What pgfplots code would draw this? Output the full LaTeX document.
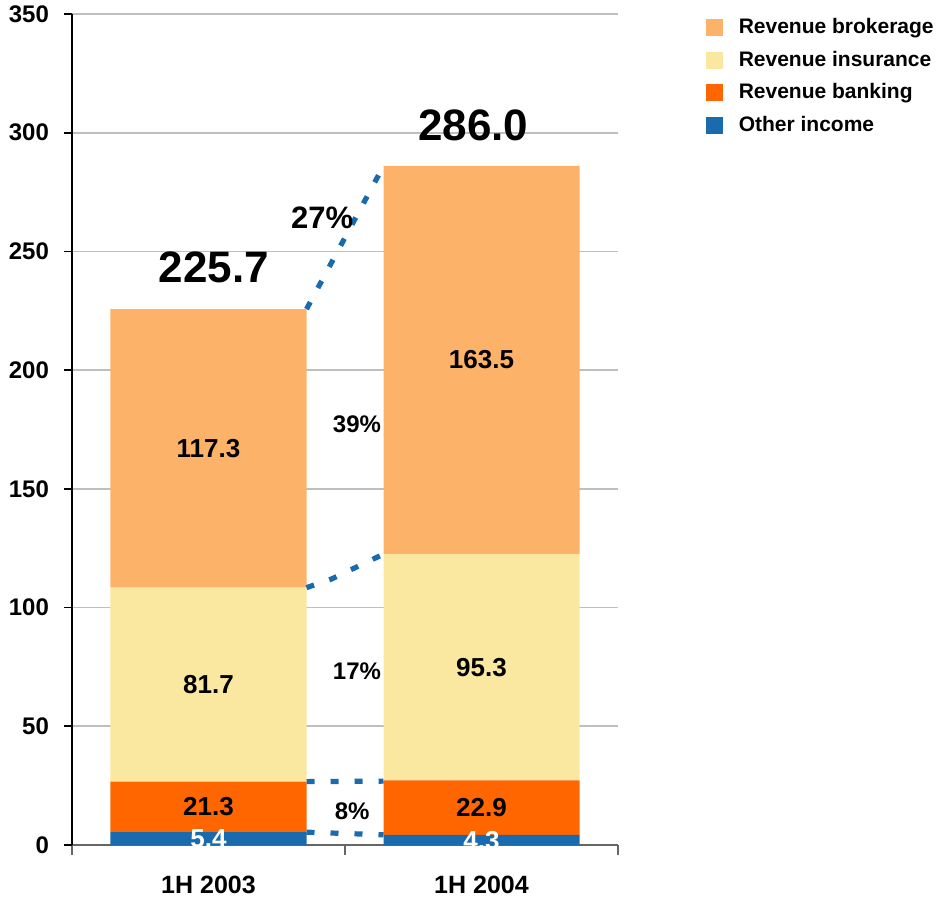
\documentclass[border=0pt]{standalone}
\usepackage{fontspec}
\setmainfont{Liberation Sans}
\usepackage{pgfplots}
\pgfplotsset{compat=1.18}
\definecolor{brok}{RGB}{253,178,106}
\definecolor{ins}{RGB}{250,232,160}
\definecolor{bank}{RGB}{255,102,0}
\definecolor{oth}{RGB}{26,107,173}
\begin{document}
\begin{tikzpicture}
\begin{axis}[
  scale only axis, width=273pt, height=415.5pt,
  xmin=-0.5, xmax=1.5, ymin=0, ymax=350,
  ybar stacked, bar width=98pt,
  axis x line=bottom, axis y line=left,
  x axis line style={-, draw=black!60, line width=1pt},
  y axis line style={-, draw=black, line width=0.8pt},
  xtick={0,1}, xticklabels={1H 2003, 1H 2004},
  major x tick style={draw=none},
  minor xtick={-0.5,0.5,1.5},
  minor x tick style={draw=black!60, line width=1pt},
  minor tick length=5pt,
  ytick={0,50,...,350},
  y tick style={draw=black, line width=0.8pt},
  major tick length=4pt,
  tick align=outside,
  ymajorgrids, grid style={draw=black!25, line width=0.8pt},
  /pgf/number format/assume math mode=true,
  yticklabel style={font=\bfseries\fontsize{12}{12}\selectfont, xshift=-4pt},
  xticklabel style={font=\bfseries\fontsize{12.5}{12.5}\selectfont, yshift=-8pt},
  reverse legend,
  legend style={at={(1.16,1)}, anchor=north west, draw=none, fill=none,
    font=\bfseries\fontsize{10.5}{10.5}\selectfont,
    row sep=3.2pt, column sep=6pt, inner sep=0pt},
  legend cell align=left,
  legend image code/.code={\fill[#1] (0pt,-4.25pt) rectangle (8.5pt,4.25pt);},
]
\addplot[fill=oth, draw=none] coordinates {(0,5.4) (1,4.3)};
\addplot[fill=bank, draw=none] coordinates {(0,21.3) (1,22.9)};
\addplot[fill=ins, draw=none] coordinates {(0,81.7) (1,95.3)};
\addplot[fill=brok, draw=none] coordinates {(0,117.3) (1,163.5)};
\legend{Other income, Revenue banking, Revenue insurance, Revenue brokerage}
\end{axis}
\begin{axis}[
  scale only axis, width=273pt, height=415.5pt,
  xmin=-0.5, xmax=1.5, ymin=0, ymax=350, hide axis, clip=false,
]
\coordinate (ll) at (rel axis cs:0,0);
\coordinate (ur) at (rel axis cs:1,1);
\addplot[oth, line width=2.6pt, dash pattern=on 4pt off 8pt] coordinates {(0.359,225.7) (0.641,286.0)};
\addplot[oth, line width=2.6pt, dash pattern=on 4pt off 8pt] coordinates {(0.359,108.4) (0.45,112) (0.641,122.5)};
\addplot[oth, line width=2.6pt, dash pattern=on 4pt off 8pt] coordinates {(0.359,26.7) (0.641,26.9)};
\addplot[oth, line width=2.6pt, dash pattern=on 4pt off 8pt] coordinates {(0.359,5.4) (0.641,4.3)};
\begin{scope}[every node/.style={font=\bfseries\fontsize{13}{13}\selectfont}]
\node at (axis cs:0,167) {117.3};
\node at (axis cs:0,67.55) {81.7};
\node at (axis cs:0,16.05) {21.3};
\node[text=white] at (axis cs:0,2.5) {5.4};
\node at (axis cs:1,204.25) {163.5};
\node at (axis cs:1,74.85) {95.3};
\node at (axis cs:1,15.75) {22.9};
\node[text=white] at (axis cs:1,2.0) {4.3};
\end{scope}
\node[font=\bfseries\fontsize{22}{22}\selectfont] at (axis cs:0.02,243.5) {225.7};
\node[font=\bfseries\fontsize{22}{22}\selectfont] at (axis cs:0.97,303) {286.0};
\node[font=\bfseries\fontsize{15.5}{15.5}\selectfont] at (axis cs:0.416,264) {27\%};
\node[font=\bfseries\fontsize{12}{12}\selectfont] at (axis cs:0.544,177) {39\%};
\node[font=\bfseries\fontsize{12}{12}\selectfont] at (axis cs:0.544,73) {17\%};
\node[font=\bfseries\fontsize{12}{12}\selectfont] at (axis cs:0.526,14.3) {8\%};
\end{axis}
\pgfresetboundingbox
\path ([shift={(-36pt,-26.5pt)}]ll) rectangle ([shift={(161pt,7pt)}]ur);
\end{tikzpicture}
\end{document}
